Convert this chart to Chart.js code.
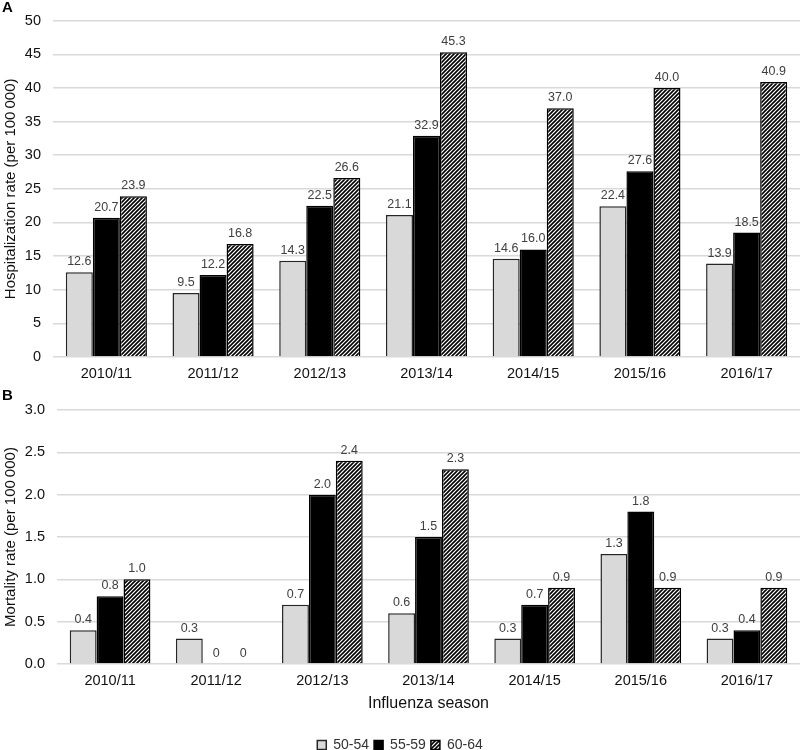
<!DOCTYPE html>
<html>
<head>
<meta charset="utf-8">
<script src="https://cdn.jsdelivr.net/npm/chart.js@4/dist/chart.umd.min.js"></script>
<style>
  body { margin: 0; background: #fff; overflow: hidden; }
  canvas { display: block; }
</style>
</head>
<body>
<canvas id="chartA" width="800" height="388"></canvas>
<canvas id="chartB" width="800" height="374"></canvas>
<script>
const seasons = ["2010/11", "2011/12", "2012/13", "2013/14", "2014/15", "2015/16", "2016/17"];
const ageGroups = ["50-54", "55-59", "60-64"];

const hosp5054 = [12.6, 9.5, 14.3, 21.1, 14.6, 22.4, 13.9];
const hosp5559 = [20.7, 12.2, 22.5, 32.9, 16.0, 27.6, 18.5];
const hosp6064 = [23.9, 16.8, 26.6, 45.3, 37.0, 40.0, 40.9];

const mort5054 = [0.4, 0.3, 0.7, 0.6, 0.3, 1.3, 0.3];
const mort5559 = [0.8, 0, 2.0, 1.5, 0.7, 1.8, 0.4];
const mort6064 = [1.0, 0, 2.4, 2.3, 0.9, 0.9, 0.9];

const FONT = "'Liberation Sans', Arial, sans-serif";

// diagonal hatch for the 60-64 group
function hatch() {
  const s = 4;
  const c = document.createElement("canvas");
  c.width = s; c.height = s;
  const g = c.getContext("2d");
  g.fillStyle = "#fff";
  g.fillRect(0, 0, s, s);
  g.strokeStyle = "#000";
  g.lineWidth = 1.6;
  g.beginPath();
  g.moveTo(0, s); g.lineTo(s, 0);
  g.moveTo(-1, 1); g.lineTo(1, -1);
  g.moveTo(s - 1, s + 1); g.lineTo(s + 1, s - 1);
  g.stroke();
  return g.createPattern(c, "repeat");
}
const stripes = hatch();

function datasets(a, b, c) {
  return [
    { label: ageGroups[0], data: a, backgroundColor: "#d9d9d9", borderColor: "#262626", borderWidth: 1.5 },
    { label: ageGroups[1], data: b, backgroundColor: "#000", borderColor: "#000", borderWidth: 1.5 },
    { label: ageGroups[2], data: c, backgroundColor: stripes, borderColor: "#000", borderWidth: 1.5 }
  ];
}

const valueLabels = {
  id: "valueLabels",
  afterDatasetsDraw(chart) {
    const ctx = chart.ctx;
    ctx.save();
    ctx.font = "12.5px " + FONT;
    ctx.fillStyle = "#404040";
    ctx.textAlign = "center";
    ctx.textBaseline = "alphabetic";
    chart.data.datasets.forEach((ds, i) => {
      chart.getDatasetMeta(i).data.forEach((el, j) => {
        const v = ds.data[j];
        ctx.fillText(v === 0 ? "0" : v.toFixed(1), el.x, el.y - 7);
      });
    });
    ctx.restore();
  }
};

const panelLetter = {
  id: "panelLetter",
  afterDraw(chart, args, opts) {
    const ctx = chart.ctx;
    ctx.save();
    ctx.font = "bold 15px " + FONT;
    ctx.fillStyle = "#000";
    ctx.textBaseline = "middle";
    ctx.fillText(opts.text, 2, opts.y);
    ctx.restore();
  }
};

function options(cfg) {
  return {
    responsive: false,
    animation: false,
    layout: { padding: cfg.padding },
    plugins: {
      legend: cfg.legend,
      tooltip: { enabled: false },
      panelLetter: { text: cfg.letter, y: 8 }
    },
    datasets: { bar: { categoryPercentage: 0.76, barPercentage: 1 } },
    scales: {
      x: {
        afterFit(scale) { scale.height = cfg.xHeight; },
        grid: { display: false, drawTicks: false },
        border: { display: false },
        ticks: { color: "#111", font: { family: FONT, size: 14.5 }, padding: 8.5 },
        title: cfg.xTitle
      },
      y: {
        min: 0,
        max: cfg.max,
        afterFit(scale) { scale.width = cfg.axisWidth; },
        grid: { color: "#d9d9d9", lineWidth: 1.5, drawTicks: false },
        border: { display: false },
        ticks: {
          stepSize: cfg.step,
          padding: 12,
          color: "#111",
          font: { family: FONT, size: 14.5 },
          callback: cfg.tickFmt
        },
        title: {
          display: true,
          text: cfg.yTitle,
          color: "#111",
          font: { family: FONT, size: 15 },
          padding: { top: 2, bottom: 0 }
        }
      }
    }
  };
}

new Chart(document.getElementById("chartA"), {
  type: "bar",
  data: { labels: seasons, datasets: datasets(hosp5054, hosp5559, hosp6064) },
  options: options({
    letter: "A",
    padding: { top: 19, right: 0, left: 0, bottom: 0 },
    legend: { display: false },
    xTitle: { display: false },
    xHeight: 31,
    max: 50, step: 5, axisWidth: 53,
    tickFmt: v => String(v),
    yTitle: "Hospitalization rate (per 100\u2009000)"
  }),
  plugins: [valueLabels, panelLetter]
});

new Chart(document.getElementById("chartB"), {
  type: "bar",
  data: { labels: seasons, datasets: datasets(mort5054, mort5559, mort6064) },
  options: options({
    letter: "B",
    padding: { top: 22, right: 0, left: 0, bottom: 0 },
    legend: {
      display: true,
      position: "bottom",
      labels: {
        boxWidth: 9, boxHeight: 9, padding: 5,
        color: "#333",
        font: { family: FONT, size: 14 }
      }
    },
    xTitle: {
      display: true,
      text: "Influenza season",
      color: "#111",
      font: { family: FONT, size: 16 },
      padding: { top: 2, bottom: 20 }
    },
    xHeight: 69,
    max: 3, step: 0.5, axisWidth: 57,
    tickFmt: v => v.toFixed(1),
    yTitle: "Mortality rate (per 100\u2009000)"
  }),
  plugins: [valueLabels, panelLetter]
});
</script>
</body>
</html>
